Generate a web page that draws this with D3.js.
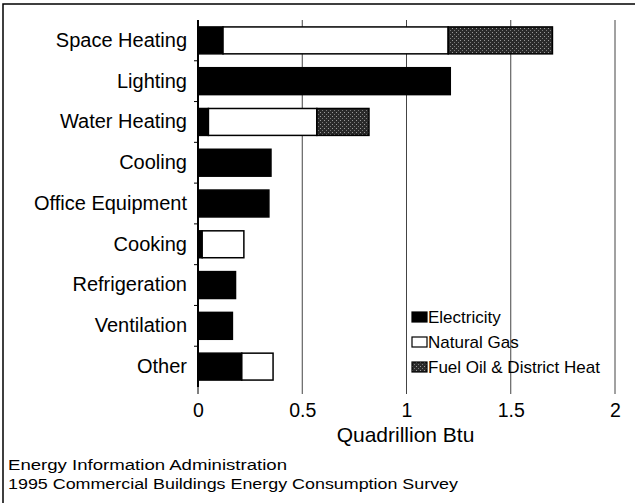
<!DOCTYPE html>
<html>
<head>
<meta charset="utf-8">
<script src="https://cdn.jsdelivr.net/npm/d3@7"></script>
<style>
  body { margin: 0; background: #fff; }
  svg { display: block; font-family: "Liberation Sans", Arial, sans-serif; }
</style>
</head>
<body>
<svg></svg>
<script>
// data (quadrillion Btu)
let categories = ['Space Heating', 'Lighting', 'Water Heating', 'Cooling', 'Office Equipment',
                  'Cooking', 'Refrigeration', 'Ventilation', 'Other']
let electricity = [0.12, 1.21, 0.05, 0.35, 0.34, 0.02, 0.18, 0.165, 0.21]
let naturalGas  = [1.08, 0,    0.52, 0,    0,    0.20, 0,    0,     0.15]
let fuelOil     = [0.50, 0,    0.25, 0,    0,    0,    0,    0,     0]
let seriesNames = ['Electricity', 'Natural Gas', 'Fuel Oil & District Heat']
let xTicks = [0, 0.5, 1, 1.5, 2]

let width = 635, height = 503
let margin = {top: 20, right: 20, bottom: 116, left: 198}

let svg = d3.select('svg')
            .attr('width', width)
            .attr('height', height)

// stipple pattern for fuel oil
let defs = svg.append('defs')
let pat = defs.append('pattern')
              .attr('id', 'stipple')
              .attr('width', 4)
              .attr('height', 4)
              .attr('patternUnits', 'userSpaceOnUse')
pat.append('rect').attr('width', 4).attr('height', 4).attr('fill', '#2a2a2a')
pat.append('rect').attr('x', 0).attr('y', 0).attr('width', 1).attr('height', 1).attr('fill', '#9a9a9a')
pat.append('rect').attr('x', 2).attr('y', 2).attr('width', 1).attr('height', 1).attr('fill', '#7a7a7a')

// frame (top + left edges visible in the scan)
svg.append('path')
   .attr('d', 'M3,503 V4 H635')
   .attr('fill', 'none')
   .attr('stroke', '#000')
   .attr('stroke-width', 1.5)

let x = d3.scaleLinear()
          .domain([0, 2])
          .range([margin.left, 615])

let y = d3.scaleBand()
          .domain(categories)
          .range([margin.top, 387])
          .paddingInner(0.34)
          .paddingOuter(0.17)

// gridlines, running down into the tick marks
svg.append('g')
   .selectAll('line')
   .data(xTicks)
   .enter()
   .append('line')
   .attr('x1', d => x(d)).attr('x2', d => x(d))
   .attr('y1', d => d === 0 ? 387 : margin.top).attr('y2', 394)
   .attr('stroke', d => d === 0 ? '#000' : '#444')
   .attr('stroke-width', 1)

// x axis labels
let xAxis = d3.axisBottom(x)
              .tickValues(xTicks)
              .tickFormat(d3.format('~g'))
              .tickSize(0)
              .tickPadding(0)
let gx = svg.append('g')
            .attr('transform', 'translate(0,' + 417 + ')')
            .call(xAxis)
gx.select('.domain').remove()
gx.selectAll('text')
  .attr('dy', 0)
  .attr('font-size', 19.5)
  .attr('font-family', '"Liberation Sans", Arial, sans-serif')
  .attr('fill', '#000')

svg.append('text')
   .attr('x', x(1) - 1)
   .attr('y', 442)
   .attr('text-anchor', 'middle')
   .attr('font-size', 21)
   .text('Quadrillion Btu')

// stacked data
let rows = categories.map((c, i) => ({
  cat: c,
  'Electricity': electricity[i],
  'Natural Gas': naturalGas[i],
  'Fuel Oil & District Heat': fuelOil[i]
}))
let stacked = d3.stack().keys(seriesNames)(rows)
let fills = {'Electricity': '#000', 'Natural Gas': '#fff', 'Fuel Oil & District Heat': 'url(#stipple)'}

svg.append('g')
   .selectAll('g')
   .data(stacked)
   .enter()
   .append('g')
   .attr('fill', d => fills[d.key])
   .selectAll('rect')
   .data(d => d.filter(p => p[1] - p[0] > 0))
   .enter()
   .append('rect')
   .attr('x', d => x(d[0]))
   .attr('y', d => y(d.data.cat))
   .attr('width', d => x(d[1]) - x(d[0]))
   .attr('height', y.bandwidth())
   .attr('stroke', '#000')
   .attr('stroke-width', 1.5)

// y axis
let yAxis = d3.axisLeft(y).tickSize(0).tickPadding(11)
let gy = svg.append('g')
            .attr('transform', 'translate(' + margin.left + ',0)')
            .call(yAxis)
gy.select('.domain').remove()
gy.selectAll('text')
  .attr('font-size', 20)
  .attr('font-family', '"Liberation Sans", Arial, sans-serif')
  .attr('fill', '#000')

// small ticks between the categories
let step = y.step()
svg.append('g')
   .selectAll('line')
   .data(categories.slice(1))
   .enter()
   .append('line')
   .attr('x1', margin.left - 4).attr('x2', margin.left)
   .attr('y1', d => y(d) - (step - y.bandwidth()) / 2)
   .attr('y2', d => y(d) - (step - y.bandwidth()) / 2)
   .attr('stroke', '#000')

svg.append('line')
   .attr('x1', margin.left).attr('x2', margin.left)
   .attr('y1', margin.top).attr('y2', 387)
   .attr('stroke', '#000')
   .attr('stroke-width', 2)

// legend
let legend = svg.append('g').attr('transform', 'translate(412,312)')
seriesNames.forEach((s, i) => {
  let g = legend.append('g').attr('transform', 'translate(0,' + i * 25 + ')')
  g.append('rect')
   .attr('width', 15).attr('height', 10)
   .attr('fill', fills[s])
   .attr('stroke', '#000')
   .attr('stroke-width', 1.2)
  g.append('text')
   .attr('x', 16).attr('y', 11)
   .attr('font-size', 17)
   .text(s)
})

// source
svg.append('text').attr('x', 8).attr('y', 470).attr('font-size', 15.5)
   .attr('textLength', 279).attr('lengthAdjust', 'spacingAndGlyphs')
   .text('Energy Information Administration')
svg.append('text').attr('x', 8).attr('y', 489).attr('font-size', 15.5)
   .attr('textLength', 450).attr('lengthAdjust', 'spacingAndGlyphs')
   .text('1995 Commercial Buildings Energy Consumption Survey')
</script>
</body>
</html>
